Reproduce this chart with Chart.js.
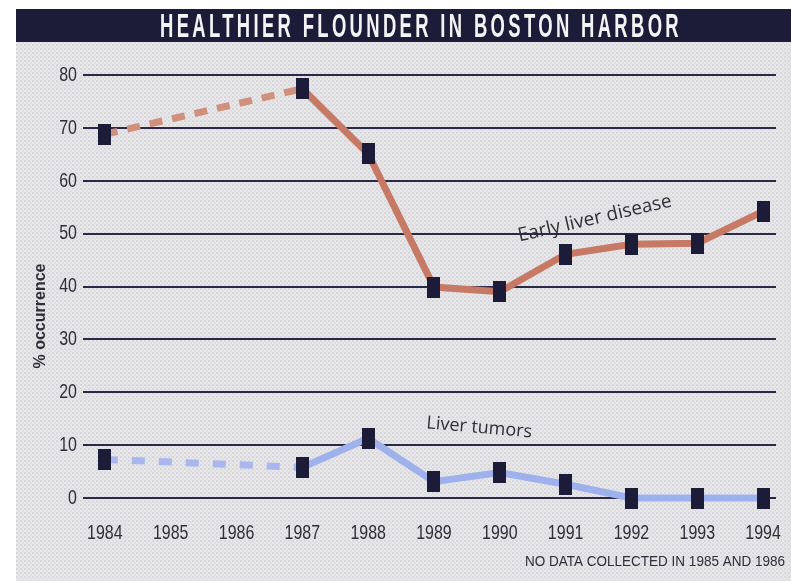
<!DOCTYPE html>
<html>
<head>
<meta charset="utf-8">
<title>Healthier Flounder in Boston Harbor</title>
<script src="https://cdn.jsdelivr.net/npm/chart.js@4/dist/chart.umd.min.js"></script>
<style>
  html, body { margin: 0; padding: 0; background: #ffffff; }
  #wrap { width: 791px; height: 581px; position: relative; }
  canvas { display: block; }
</style>
</head>
<body>
<div id="wrap"><canvas id="chart" width="791" height="581"></canvas></div>
<script>
// Survey years (no sampling in 1985 and 1986)
const years = [1984, 1987, 1988, 1989, 1990, 1991, 1992, 1993, 1994];
// Percent of flounder with early liver disease
const earlyLiverDisease = [68.8, 77.4, 65.1, 39.9, 39.0, 46.1, 48.0, 48.2, 54.2];
// Percent of flounder with liver tumors
const liverTumors = [7.3, 5.8, 11.3, 3.1, 4.8, 2.6, 0, 0, 0];
// Axis labels
const xTickLabels = ['1984', '1985', '1986', '1987', '1988', '1989', '1990', '1991', '1992', '1993', '1994'];
const yTickLabels = ['0', '10', '20', '30', '40', '50', '60', '70', '80'];

const TITLE = 'HEALTHIER FLOUNDER IN BOSTON HARBOR';
const Y_TITLE = '% occurrence';
const FOOTNOTE = 'NO DATA COLLECTED IN 1985 AND 1986';
const GROTESK = '"Liberation Sans", Arial, sans-serif';
const HUMANIST = '"Open Sans", "Noto Sans", sans-serif';

const INK = '#1d1c38';
const TEXT = '#2e2e38';
const RED = '#c67a66';
const RED_DASH = '#d0907e';
const BLUE = '#9fb1ec';
const BLUE_DASH = '#aab6ee';

// Dark rectangular marker used for every data point
const marker = document.createElement('canvas');
marker.width = 13; marker.height = 21;
(function () {
  const c = marker.getContext('2d');
  c.fillStyle = INK;
  c.fillRect(0, 0, 13, 21);
})();

// Halftone-like screen for the panel background
function screenPattern(ctx) {
  const p = document.createElement('canvas');
  p.width = 4; p.height = 4;
  const c = p.getContext('2d');
  c.fillStyle = '#e7e7e9';
  c.fillRect(0, 0, 4, 4);
  c.fillStyle = '#d8d8dc';
  c.fillRect(0, 0, 2, 2);
  c.fillStyle = '#dfdfe2';
  c.fillRect(2, 2, 2, 2);
  return ctx.createPattern(p, 'repeat');
}

// Condensed type: draw text squeezed horizontally by sx
function condensed(ctx, text, x, y, sx, align, baseline) {
  ctx.save();
  ctx.translate(x, y);
  ctx.scale(sx, 1);
  ctx.textAlign = align;
  ctx.textBaseline = baseline;
  ctx.fillText(text, 0, 0);
  ctx.restore();
}

const toPoints = vals => years.map((x, i) => ({ x: x, y: vals[i] }));
const firstGap = ctx => ctx.p0.parsed.x === 1984;

const backdrop = {
  id: 'backdrop',
  beforeDraw(chart) {
    const ctx = chart.ctx;
    ctx.save();
    ctx.fillStyle = '#ffffff';
    ctx.fillRect(0, 0, chart.width, chart.height);
    ctx.fillStyle = screenPattern(ctx);
    ctx.fillRect(16, 41, chart.width - 16, chart.height - 41);
    // Title bar
    ctx.fillStyle = INK;
    ctx.fillRect(16, 9, chart.width - 16, 33);
    ctx.fillStyle = '#f4f4f6';
    ctx.font = 'bold 33px ' + GROTESK;
    ctx.letterSpacing = '6px';
    const w = ctx.measureText(TITLE).width;
    condensed(ctx, TITLE, 160, 37, 522 / w, 'left', 'alphabetic');
    ctx.restore();
  }
};

const labels = {
  id: 'labels',
  afterDraw(chart) {
    const ctx = chart.ctx;
    const xs = chart.scales.x, ys = chart.scales.y;
    ctx.save();
    ctx.fillStyle = TEXT;

    // Tick labels, placed by the scales
    ctx.font = '21px ' + GROTESK;
    xs.ticks.forEach((t, i) => {
      condensed(ctx, xTickLabels[i], xs.getPixelForValue(t.value), 533, 0.76, 'center', 'middle');
    });
    ys.ticks.forEach((t, i) => {
      condensed(ctx, yTickLabels[i], 77, ys.getPixelForValue(t.value), 0.76, 'right', 'middle');
    });

    // Y axis title
    ctx.save();
    ctx.translate(41, 316);
    ctx.rotate(-Math.PI / 2);
    ctx.font = 'bold 16px ' + GROTESK;
    ctx.textAlign = 'center';
    ctx.textBaseline = 'middle';
    ctx.fillText(Y_TITLE, 0, 0);
    ctx.restore();

    // Series labels
    ctx.save();
    ctx.translate(xs.getPixelForValue(1990.3), ys.getPixelForValue(48.5));
    ctx.rotate(-13 * Math.PI / 180);
    ctx.font = '19px ' + HUMANIST;
    ctx.textAlign = 'left';
    ctx.textBaseline = 'alphabetic';
    ctx.fillText('Early liver disease', 0, 0);
    ctx.restore();
    ctx.save();
    ctx.translate(xs.getPixelForValue(1988.88), ys.getPixelForValue(13.2));
    ctx.rotate(5 * Math.PI / 180);
    ctx.font = '18px ' + HUMANIST;
    ctx.textAlign = 'left';
    ctx.textBaseline = 'alphabetic';
    ctx.fillText('Liver tumors', 0, 0);
    ctx.restore();

    // Footnote
    ctx.font = '15px ' + GROTESK;
    const fw = ctx.measureText(FOOTNOTE).width;
    condensed(ctx, FOOTNOTE, 785, 562, 260 / fw, 'right', 'middle');
    ctx.restore();
  }
};

new Chart(document.getElementById('chart'), {
  type: 'line',
  data: {
    datasets: [
      {
        label: 'Early liver disease',
        data: toPoints(earlyLiverDisease),
        borderColor: RED,
        borderWidth: 7,
        borderCapStyle: 'butt',
        tension: 0,
        pointStyle: marker,
        pointRadius: 8,
        clip: false,
        segment: {
          borderDash: ctx => firstGap(ctx) ? [13, 10] : undefined,
          borderColor: ctx => firstGap(ctx) ? RED_DASH : undefined
        }
      },
      {
        label: 'Liver tumors',
        data: toPoints(liverTumors),
        borderColor: BLUE,
        borderWidth: 7,
        borderCapStyle: 'butt',
        tension: 0,
        pointStyle: marker,
        pointRadius: 8,
        clip: false,
        segment: {
          borderDash: ctx => firstGap(ctx) ? [13, 14] : undefined,
          borderColor: ctx => firstGap(ctx) ? BLUE_DASH : undefined
        }
      }
    ]
  },
  options: {
    responsive: false,
    animation: false,
    events: [],
    layout: { padding: { left: 0, top: 75, right: 3, bottom: 43 } },
    plugins: { legend: { display: false }, tooltip: { enabled: false }, title: { display: false } },
    scales: {
      x: {
        type: 'linear',
        min: 1983.668,
        max: 1994.196,
        afterFit: s => { s.height = 40; s.paddingLeft = 0; s.paddingRight = 0; },
        afterBuildTicks: s => { s.ticks = xTickLabels.map(t => ({ value: Number(t) })); },
        grid: { display: false, drawTicks: false },
        border: { display: false },
        ticks: { display: false, autoSkip: false }
      },
      y: {
        min: 0,
        max: 80,
        afterFit: s => { s.width = 83; s.paddingTop = 0; s.paddingBottom = 0; },
        afterBuildTicks: s => { s.ticks = yTickLabels.map(t => ({ value: Number(t) })); },
        grid: { color: '#2b2a46', lineWidth: 2, drawTicks: false },
        border: { display: false },
        ticks: { display: false }
      }
    }
  },
  plugins: [backdrop, labels]
});
</script>
</body>
</html>
